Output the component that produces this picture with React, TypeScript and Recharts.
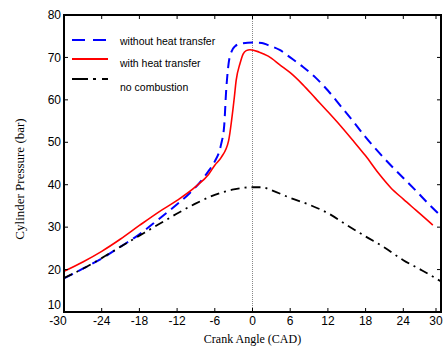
import {
    Legend,
    Line,
    LineChart,
    ReferenceArea,
    ReferenceLine,
    XAxis,
    YAxis,
} from 'recharts';

const angleTicks = [-30, -24, -18, -12, -6, 0, 6, 12, 18, 24, 30];
const pressureTicks = [10, 20, 30, 40, 50, 60, 70, 80];

const seriesNames = ['without heat transfer', 'with heat transfer', 'no combustion'];

const noHtAngle = [
    -30, -27, -24, -21, -18, -15, -12, -10, -8, -7, -6, -5, -4.5, -4.2, -3.8, -3.3, -2.8, -2, 0,
    1.5, 2.5, 4.4, 6, 8, 10, 12, 14, 16, 18, 20, 22, 24, 26, 28, 30,
];
const noHtPressure = [
    17.9, 20.2, 22.6, 25.4, 28.3, 31.8, 35.4, 38.0, 41.2, 43.2, 45.5, 49.5, 54, 62, 68.6, 71.5,
    72.6, 73.2, 73.5, 73.4, 72.9, 71.7, 70.0, 67.8, 65.3, 62.2, 58.6, 55.0, 51.2, 47.8, 44.6,
    41.6, 38.6, 35.5, 32.6,
];

const htAngle = [
    -30, -27, -24, -21, -18, -15, -12, -9, -7, -6, -5, -3.8, -3.3, -2.9, -2.6, -2.0, -1.5, -1.0,
    -0.4, 1, 2.5, 4.4, 6, 8, 10, 12, 14, 16, 18, 20, 22, 24, 26, 28, 28.7,
];
const htPressure = [
    19.6, 21.8, 24.3, 27.2, 30.4, 33.5, 36.3, 39.6, 42.4, 44.6, 46.4, 50.4, 55.5, 60.5, 64.6,
    68.5, 70.8, 71.6, 71.8, 71.3, 70.3, 68.2, 66.4, 63.6, 60.4, 57.2, 53.9, 50.4, 46.8, 42.8,
    39.3, 36.6, 34.0, 31.4, 30.5,
];

const noCombAngle = [
    -30, -27, -24, -21, -18, -15, -12, -9, -6, -3, 0, 1.5, 3, 6, 9, 12, 15, 18, 21, 24, 27, 30,
];
const noCombPressure = [
    18.0, 20.2, 22.7, 25.4, 28.0, 30.6, 33.2, 35.6, 37.6, 38.9, 39.4, 39.4, 38.7, 36.9, 35.3,
    33.3, 30.5, 27.8, 25.2, 22.2, 19.8, 17.2,
];

const zip = (xs: number[], ys: number[]) => xs.map((angle, i) => ({ angle, pressure: ys[i] }));

const noHtData = zip(noHtAngle, noHtPressure);
const htData = zip(htAngle, htPressure);
const noCombData = zip(noCombAngle, noCombPressure);

const PLOT_TOP = 15;
const PLOT_RIGHT = 441;
const SANS = '"Liberation Sans", Arial, sans-serif';
const SERIF = '"Liberation Serif", "Times New Roman", serif';

const legendRows = [
    { name: seriesNames[0], color: '#0000ff', dash: '13 8', lineY: 12, textY: 13 },
    { name: seriesNames[1], color: '#ff0000', dash: undefined, lineY: 31, textY: 35 },
    { name: seriesNames[2], color: '#000000', dash: '16 5 3 6', lineY: 51, textY: 59 },
];

function XTick({ x, y, payload, index }: any) {
    // first label sits a little to the left of its tick, clear of the "10"
    const shift = index === 0 ? -6 : 0;
    return (
        <g>
            <line x1={x} x2={x} y1={y} y2={y - 4} stroke="#000" />
            <line x1={x} x2={x} y1={PLOT_TOP} y2={PLOT_TOP + 4} stroke="#000" />
            <text x={x + shift} y={y + 9} dy="0.35em" textAnchor="middle" fontSize={12} fontFamily={SANS} fill="#000">
                {payload.value}
            </text>
        </g>
    );
}

function YTick({ x, y, payload, index }: any) {
    const lift = index === 0 ? -7 : 0;
    return (
        <g>
            <line x1={x} x2={x + 4} y1={y} y2={y} stroke="#000" />
            <line x1={PLOT_RIGHT} x2={PLOT_RIGHT - 4} y1={y} y2={y} stroke="#000" />
            <text x={x - 3} y={y + lift} dy="0.35em" textAnchor="end" fontSize={12} fontFamily={SANS} fill="#000">
                {payload.value}
            </text>
        </g>
    );
}

function LegendBox() {
    return (
        <svg width={170} height={70}>
            {legendRows.map((row) => (
                <g key={row.name}>
                    <line
                        x1={12}
                        x2={48}
                        y1={row.lineY}
                        y2={row.lineY}
                        stroke={row.color}
                        strokeWidth={2}
                        strokeDasharray={row.dash}
                    />
                    <text x={60} y={row.textY} dy="0.35em" fontSize={10.5} fontFamily={SANS} fill="#000">
                        {row.name}
                    </text>
                </g>
            ))}
        </svg>
    );
}

export default function App() {
    return (
        <div style={{ width: 444, height: 347, background: '#fff' }}>
            <style>{'body{margin:0;}'}</style>
            <LineChart width={444} height={347} margin={{ top: PLOT_TOP, right: 3, bottom: 0, left: 0 }}>
                <XAxis
                    type="number"
                    dataKey="angle"
                    domain={[-30, 30]}
                    ticks={angleTicks}
                    height={35}
                    tickSize={0}
                    tickMargin={0}
                    tickLine={false}
                    tick={<XTick />}
                    axisLine={{ stroke: '#000', strokeWidth: 2 }}
                    label={{
                        value: 'Crank Angle (CAD)',
                        content: ({ viewBox }: any) => (
                            <text
                                x={viewBox.x + viewBox.width / 2}
                                y={339}
                                dy="0.35em"
                                textAnchor="middle"
                                fontSize={12}
                                fontFamily={SERIF}
                                fill="#000"
                            >
                                Crank Angle (CAD)
                            </text>
                        ),
                    }}
                />
                <YAxis
                    type="number"
                    dataKey="pressure"
                    domain={[10, 80]}
                    ticks={pressureTicks}
                    width={64}
                    tickSize={0}
                    tickMargin={0}
                    tickLine={false}
                    tick={<YTick />}
                    axisLine={{ stroke: '#000', strokeWidth: 2 }}
                    label={{
                        value: 'Cylinder Pressure (bar)',
                        content: () => (
                            <text
                                x={19}
                                y={179}
                                dy="0.35em"
                                transform="rotate(-90, 19, 179)"
                                textAnchor="middle"
                                fontSize={13}
                                fontFamily={SERIF}
                                fill="#000"
                            >
                                Cylinder Pressure (bar)
                            </text>
                        ),
                    }}
                />
                <ReferenceArea x1={-30} x2={30} y1={10} y2={80} fill="none" stroke="#000" strokeWidth={2} />
                <ReferenceLine x={0} stroke="#888" strokeDasharray="1 1" />
                <Line
                    data={noHtData}
                    dataKey="pressure"
                    name={seriesNames[0]}
                    type="monotone"
                    stroke="#0000ff"
                    strokeWidth={2}
                    strokeDasharray="10 6"
                    dot={false}
                    isAnimationActive={false}
                />
                <Line
                    data={htData}
                    dataKey="pressure"
                    name={seriesNames[1]}
                    type="monotone"
                    stroke="#ff0000"
                    strokeWidth={1.6}
                    dot={false}
                    isAnimationActive={false}
                />
                <Line
                    data={noCombData}
                    dataKey="pressure"
                    name={seriesNames[2]}
                    type="monotone"
                    stroke="#000000"
                    strokeWidth={1.8}
                    strokeDasharray="9 5 2 5"
                    dot={false}
                    isAnimationActive={false}
                />
                <Legend
                    layout="vertical"
                    align="center"
                    verticalAlign="middle"
                    content={() => <LegendBox />}
                    wrapperStyle={{ left: 60, top: 28, width: 170, height: 70 }}
                />
            </LineChart>
        </div>
    );
}
